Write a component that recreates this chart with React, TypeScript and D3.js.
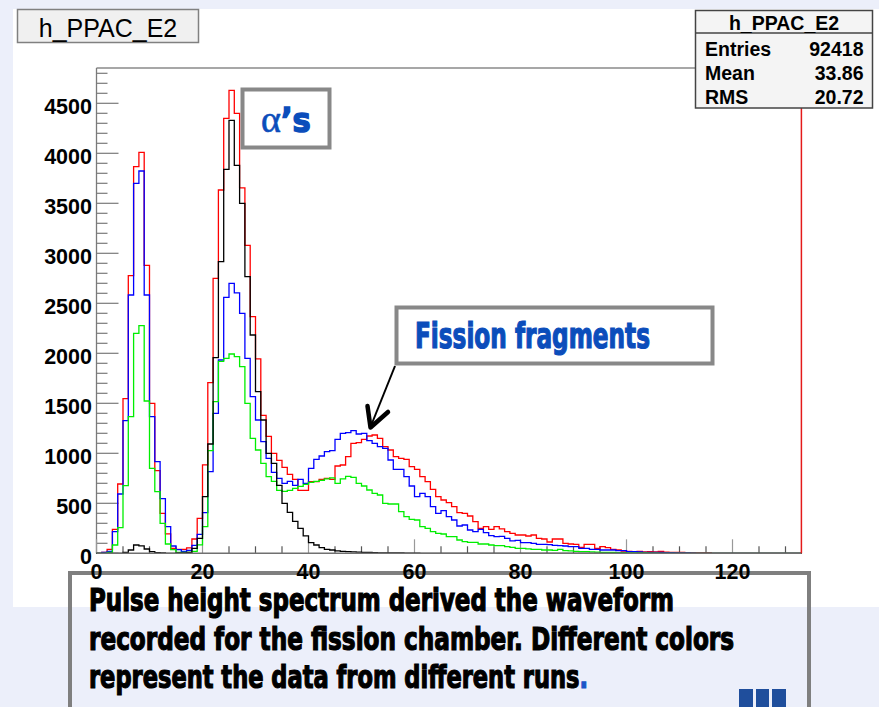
import React from 'react';
import * as d3 from 'd3';

const W = 879;
const H = 707;
const NBINS = 133;
const X_MAX = 133;
const Y_MAX = 4853;

const xTickLabels = [0, 20, 40, 60, 80, 100, 120];
const yTickLabels = [0, 500, 1000, 1500, 2000, 2500, 3000, 3500, 4000, 4500];

const statsRows = [
  ['Entries', '92418'],
  ['Mean', '33.86'],
  ['RMS', '20.72'],
];

const captionLines = [
  'Pulse height spectrum derived the waveform',
  'recorded for the fission chamber. Different colors',
  'represent the data from different runs',
];

// bin contents, bin width = 1, starting at 0
const redCounts = [
  0, 10, 40, 240, 693, 1547, 2777, 3867, 4010, 2880,
  1500, 827, 400, 195, 50, 40, 40, 55, 143, 350,
  885, 1707, 2750, 3633, 4350, 4630, 4400, 3655, 3080, 2367,
  1945, 1380, 1170, 1000, 930, 860, 790, 740, 630, 630,
  717, 717, 740, 750, 740, 873, 883, 967, 1100, 1107,
  1140, 1173, 1183, 1150, 1067, 1033, 967, 950, 940, 867,
  840, 767, 717, 640, 567, 533, 507, 467, 407, 400,
  373, 317, 250, 267, 240, 267, 245, 217, 200, 183,
  183, 173, 183, 150, 143, 113, 143, 143, 100, 93,
  90, 60, 90, 90, 50, 67, 57, 40, 33, 23,
  20, 17, 20, 15, 17, 15, 20, 12, 10, 10,
  8, 5, 5, 3, 5, 3,
];

const blueCounts = [
  0, 10, 20, 217, 593, 1327, 2583, 3700, 3823, 2583,
  1367, 917, 547, 267, 73, 37, 20, 30, 80, 190,
  407, 817, 1400, 1933, 2560, 2700, 2605, 2400, 1950, 1567,
  1333, 1117, 950, 810, 750, 700, 720, 680, 740, 700,
  850, 940, 973, 1017, 1027, 1140, 1200, 1207, 1227, 1193,
  1200, 1127, 1100, 1067, 1050, 933, 840, 840, 767, 673,
  567, 600, 567, 467, 400, 427, 367, 333, 273, 283,
  233, 217, 240, 207, 177, 167, 170, 150, 125, 130,
  107, 107, 100, 90, 90, 87, 80, 77, 73, 67,
  67, 50, 50, 40, 40, 33, 33, 33, 27, 27,
  17, 17, 13, 10, 10, 10, 8, 7, 6, 5,
  4, 3, 2,
];

const greenCounts = [
  0, 0, 10, 83, 257, 677, 1367, 2200, 2277, 1523,
  850, 617, 300, 93, 37, 10, 10, 10, 20, 85,
  267, 1027, 1517, 1920, 1950, 1993, 1967, 1867, 1500, 1150,
  1033, 900, 767, 720, 630, 620, 630, 650, 670, 690,
  710, 720, 730, 745, 755, 700, 745, 770, 760, 700,
  673, 633, 600, 583, 500, 493, 493, 417, 367, 340,
  333, 267, 250, 217, 200, 193, 167, 167, 133, 117,
  110, 110, 93, 93, 83, 77, 77, 67, 60, 50,
  50, 45, 40, 40, 33, 33, 30, 40, 27, 25,
  20, 17, 17, 15, 12, 10, 10, 8, 7, 6,
  5, 4, 3, 3, 2, 2,
];

const blackCounts = [
  0, 0, 0, 0, 0, 10, 33, 83, 75, 43,
  17, 7, 3, 0, 0, 3, 5, 10, 50, 150,
  567, 1093, 1957, 2917, 3840, 4330, 3880, 3500, 2767, 2183,
  1617, 1333, 1000, 900, 680, 500, 410, 320, 250, 175,
  107, 83, 57, 40, 33, 25, 20, 17, 15, 12,
  10, 8, 6, 5, 5, 4, 3, 3, 2, 2,
  1,
];

const series = [
  { name: 'red', values: redCounts, color: '#ff0000' },
  { name: 'blue', values: blueCounts, color: '#0000ff' },
  { name: 'green', values: greenCounts, color: '#00ee00' },
  { name: 'black', values: blackCounts, color: '#000000' },
];

const SANS = "'Liberation Sans', Arial, Helvetica, sans-serif";
const NARROW = "'Liberation Sans Narrow', 'DejaVu Sans Condensed', 'Liberation Sans', sans-serif";
const BLUE_TEXT = '#0b4dbb';

export default function App() {
  const left = 96.5;
  const right = 801.4;
  const top = 68;
  const bottom = 553.3;

  const x = d3.scaleLinear().domain([0, X_MAX]).range([left, right]);
  const y = d3.scaleLinear().domain([0, Y_MAX]).range([bottom, top]);

  const histPath = (vals: number[]) => {
    const pts: [number, number][] = [];
    for (let i = 0; i < NBINS; i++) pts.push([i, vals[i] ?? 0]);
    pts.push([NBINS, vals[NBINS - 1] ?? 0]);
    return d3
      .line<[number, number]>()
      .x((d) => x(d[0]))
      .y((d) => y(d[1]))
      .curve(d3.curveStepAfter)(pts) as string;
  };

  const yMinor = d3.range(0, Y_MAX, 100);
  const xMinor = d3.range(0, X_MAX + 0.01, 5);
  const captionWidths = [585, 645, 499];

  return (
    <svg
      width={W}
      height={H}
      viewBox={`0 0 ${W} ${H}`}
      style={{ position: 'absolute', left: 0, top: 0, display: 'block' }}
    >
      {/* slide background */}
      <rect x={0} y={0} width={W} height={H} fill="#eceffa" />
      {/* canvas */}
      <rect x={13} y={9} width={W - 13} height={607 - 9} fill="#ffffff" />

      {/* histogram title box */}
      <rect x={17.5} y={9.5} width={181} height={33} fill="#f0f0f0" stroke="#808080" strokeWidth={1.5} />
      <text x={108} y={36.5} textAnchor="middle" fontFamily={SANS} fontSize={25} fill="#000">
        h_PPAC_E2
      </text>

      {/* frame */}
      <line x1={left} x2={right} y1={top} y2={top} stroke="#8a8a8a" strokeWidth={1.3} />
      <line x1={left} x2={left} y1={top} y2={bottom} stroke="#7a7a7a" strokeWidth={1.3} />

      {/* y ticks */}
      {yMinor.map((v) => {
        const major = v % 500 === 0;
        return (
          <line
            key={`yt${v}`}
            x1={left}
            x2={left + (major ? 22 : 11)}
            y1={y(v)}
            y2={y(v)}
            stroke="#7a7a7a"
            strokeWidth={1.2}
          />
        );
      })}
      {/* x ticks */}
      {xMinor.map((v) => {
        const major = v % 20 === 0;
        return (
          <line
            key={`xt${v}`}
            x1={x(v)}
            x2={x(v)}
            y1={bottom}
            y2={bottom - (major ? 14 : 7)}
            stroke={major ? '#999' : '#555'}
            strokeWidth={1.2}
          />
        );
      })}

      {/* histograms */}
      {series.map((s) => (
        <path key={s.name} d={histPath(s.values)} fill="none" stroke={s.color} strokeWidth={1.3} />
      ))}

      {/* x axis line & right edge */}
      <line x1={left} x2={right} y1={bottom} y2={bottom} stroke="#707070" strokeWidth={1.6} />
      <line x1={right} x2={right} y1={top} y2={bottom} stroke="#e41a1a" strokeWidth={1.5} />

      {/* y tick labels */}
      {yTickLabels.map((v) => (
        <text
          key={`yl${v}`}
          x={92}
          y={y(v) + 10.5}
          textAnchor="end"
          fontFamily={SANS}
          fontWeight="bold"
          fontSize={21.5}
          fill="#000"
        >
          {v}
        </text>
      ))}

      {/* stats box */}
      <rect x={695.5} y={10.5} width={177} height={97.5} fill="#f4f4f4" stroke="#444" strokeWidth={1.5} />
      <line x1={695.5} x2={872.5} y1={33} y2={33} stroke="#444" strokeWidth={1.3} />
      <text x={784} y={29.5} textAnchor="middle" fontFamily={SANS} fontWeight="bold" fontSize={19.5}>
        h_PPAC_E2
      </text>
      {statsRows.map((r, i) => (
        <g key={r[0]}>
          <text x={705} y={55.5 + i * 24.4} fontFamily={SANS} fontWeight="bold" fontSize={19.5}>
            {r[0]}
          </text>
          <text x={863.5} y={55.5 + i * 24.4} textAnchor="end" fontFamily={SANS} fontWeight="bold" fontSize={19.5}>
            {r[1]}
          </text>
        </g>
      ))}

      {/* alpha annotation */}
      <rect x={242.5} y={89.5} width={87} height={58} fill="#ffffff" stroke="#888" strokeWidth={4} />
      <text x={261} y={132} fill={BLUE_TEXT}>
        <tspan fontFamily="'Liberation Serif', 'DejaVu Serif', serif" fontSize={38} stroke={BLUE_TEXT} strokeWidth={0.6}>
          α
        </tspan>
        <tspan fontFamily={NARROW} fontWeight="bold" fontSize={34} stroke={BLUE_TEXT} strokeWidth={1.4}>
          ’s
        </tspan>
      </text>

      {/* fission fragments annotation */}
      <rect x={396.5} y={307.5} width={316} height={56} fill="#ffffff" stroke="#888" strokeWidth={4} />
      <text
        x={415}
        y={348}
        fontFamily={NARROW}
        fontWeight="bold"
        fontSize={35}
        fill={BLUE_TEXT}
        stroke={BLUE_TEXT}
        strokeWidth={1.2}
        textLength={235}
        lengthAdjust="spacingAndGlyphs"
      >
        Fission fragments
      </text>
      <line x1={395} y1={366} x2={370.5} y2={427} stroke="#000" strokeWidth={2} />
      <polyline
        points="367.5,406 370.5,427.5 388,412"
        fill="none"
        stroke="#000"
        strokeWidth={4.5}
        strokeLinecap="round"
        strokeLinejoin="round"
      />

      {/* caption box */}
      <rect x={70} y={573} width={739} height={150} fill="none" stroke="#7f7f7f" strokeWidth={4} />

      {/* x tick labels */}
      {xTickLabels.map((v) => (
        <text
          key={`xl${v}`}
          x={x(v)}
          y={579}
          textAnchor="middle"
          fontFamily={SANS}
          fontWeight="bold"
          fontSize={21.5}
          fill="#000"
        >
          {v}
        </text>
      ))}

      {captionLines.map((t, i) => (
        <text
          key={i}
          x={89}
          y={611 + i * 38.5}
          fontFamily={NARROW}
          fontWeight="bold"
          fontSize={32}
          fill="#000"
          stroke="#000"
          strokeWidth={1.2}
          textLength={captionWidths[i]}
          lengthAdjust="spacingAndGlyphs"
        >
          {t}
          {i === captionLines.length - 1 ? (
            <tspan fill="#1a56c8" stroke="#1a56c8">
              .
            </tspan>
          ) : null}
        </text>
      ))}

      {/* slide icon */}
      <rect x={739} y={689} width={14} height={18} fill="#1f4e9c" />
      <rect x={756} y={689} width={13} height={18} fill="#1f4e9c" />
      <rect x={772} y={689} width={14} height={18} fill="#1f4e9c" />
    </svg>
  );
}
